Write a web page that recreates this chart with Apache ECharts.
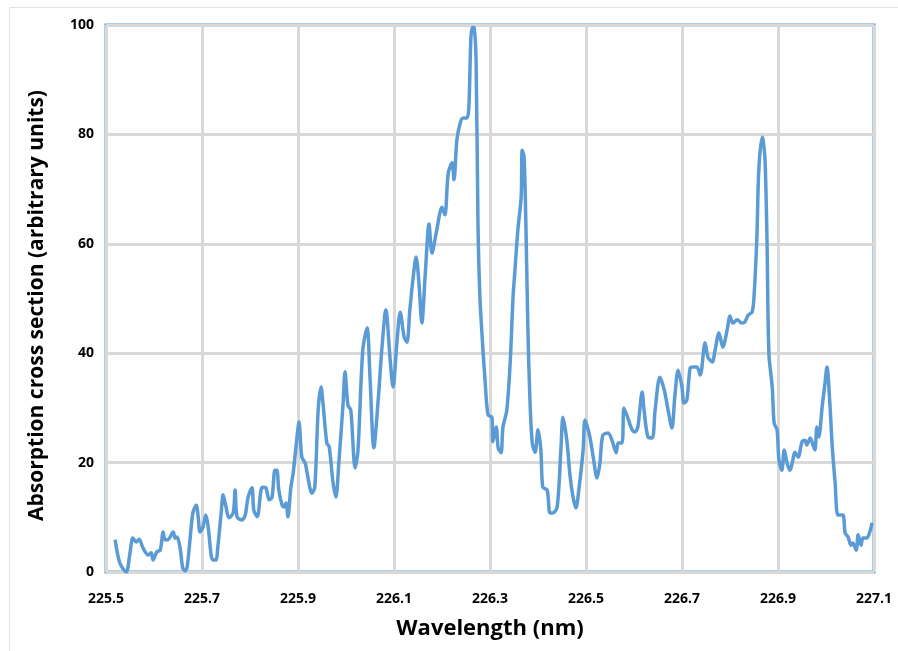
<!DOCTYPE html>
<html>
<head>
<meta charset="utf-8">
<script src="https://cdn.jsdelivr.net/npm/echarts@6/dist/echarts.min.js"></script>
<style>
  html, body { margin: 0; padding: 0; background: #ffffff; }
  #chart { width: 898px; height: 651px; }
</style>
</head>
<body>
<div id="chart"></div>
<script>
// Absorption spectrum: wavelength (nm) and relative cross section
const wavelength = [
  225.519, 225.529, 225.542, 225.550, 225.556, 225.563, 225.569, 225.577, 225.588, 225.594,
  225.598, 225.606, 225.613, 225.619, 225.623, 225.629, 225.640, 225.644, 225.648, 225.654,
  225.660, 225.665, 225.669, 225.675, 225.681, 225.688, 225.692, 225.696, 225.702, 225.708,
  225.713, 225.719, 225.723, 225.729, 225.733, 225.740, 225.744, 225.750, 225.756, 225.765,
  225.769, 225.773, 225.783, 225.790, 225.796, 225.804, 225.808, 225.815, 225.823, 225.827,
  225.833, 225.840, 225.846, 225.852, 225.856, 225.860, 225.867, 225.871, 225.875, 225.879,
  225.885, 225.890, 225.898, 225.902, 225.908, 225.915, 225.919, 225.929, 225.935, 225.942,
  225.948, 225.952, 225.960, 225.965, 225.973, 225.979, 225.985, 225.994, 225.998, 226.004,
  226.010, 226.019, 226.025, 226.035, 226.044, 226.050, 226.058, 226.067, 226.075, 226.083,
  226.092, 226.098, 226.106, 226.113, 226.121, 226.127, 226.133, 226.140, 226.146, 226.152,
  226.158, 226.165, 226.173, 226.179, 226.188, 226.200, 226.206, 226.213, 226.221, 226.225,
  226.231, 226.238, 226.244, 226.252, 226.256, 226.260, 226.263, 226.267, 226.271, 226.275,
  226.279, 226.285, 226.290, 226.296, 226.304, 226.306, 226.313, 226.317, 226.323, 226.327,
  226.335, 226.342, 226.348, 226.352, 226.358, 226.365, 226.367, 226.371, 226.375, 226.379,
  226.383, 226.388, 226.394, 226.400, 226.406, 226.410, 226.419, 226.425, 226.431, 226.440,
  226.448, 226.452, 226.460, 226.467, 226.473, 226.479, 226.485, 226.494, 226.498, 226.508,
  226.515, 226.523, 226.529, 226.535, 226.546, 226.554, 226.563, 226.567, 226.575, 226.579,
  226.585, 226.596, 226.602, 226.608, 226.617, 226.621, 226.629, 226.638, 226.644, 226.654,
  226.663, 226.671, 226.679, 226.685, 226.692, 226.700, 226.704, 226.710, 226.717, 226.723,
  226.731, 226.738, 226.748, 226.754, 226.763, 226.769, 226.777, 226.785, 226.794, 226.800,
  226.806, 226.815, 226.825, 226.831, 226.838, 226.846, 226.850, 226.856, 226.860, 226.867,
  226.869, 226.873, 226.877, 226.881, 226.888, 226.892, 226.898, 226.902, 226.908, 226.913,
  226.919, 226.925, 226.931, 226.935, 226.942, 226.950, 226.956, 226.960, 226.967, 226.973,
  226.977, 226.981, 226.985, 226.992, 226.998, 227.002, 227.008, 227.013, 227.019, 227.025,
  227.035, 227.040, 227.046, 227.052, 227.056, 227.063, 227.067, 227.073, 227.077, 227.085,
  227.096
];
const crossSection = [
  5.9, 1.6, 0.0, 3.5, 6.2, 5.5, 6.0, 4.4, 3.1, 3.5,
  2.2, 3.7, 4.0, 7.3, 5.9, 5.9, 7.3, 6.2, 6.4, 4.6,
  0.7, 0.2, 0.9, 5.9, 10.8, 12.2, 10.1, 7.3, 8.2, 10.4,
  8.2, 3.1, 2.2, 2.2, 4.6, 10.8, 14.1, 11.9, 9.9, 10.8,
  15.0, 10.1, 9.5, 10.4, 13.7, 15.4, 11.3, 10.1, 15.0, 15.5,
  15.4, 13.2, 13.7, 18.6, 18.6, 15.0, 12.2, 11.9, 12.6, 10.1,
  15.4, 18.1, 24.7, 27.4, 21.0, 19.9, 18.1, 14.4, 15.5, 29.6,
  33.8, 30.9, 23.6, 22.9, 16.3, 13.7, 19.9, 30.9, 36.6, 30.5,
  29.6, 19.0, 22.3, 40.6, 44.6, 35.6, 22.7, 31.4, 41.1, 47.9,
  38.8, 33.8, 41.9, 47.5, 43.0, 42.0, 47.9, 53.9, 57.6, 52.8,
  45.5, 54.3, 63.6, 58.3, 62.0, 66.7, 65.3, 72.9, 74.8, 71.7,
  79.0, 82.1, 83.0, 83.0, 85.0, 97.3, 99.6, 99.5, 93.6, 63.4,
  50.3, 41.1, 34.6, 28.7, 28.3, 23.8, 26.5, 22.7, 21.8, 26.5,
  29.6, 38.2, 50.3, 55.2, 62.5, 68.6, 77.1, 75.9, 62.5, 44.2,
  32.0, 23.6, 21.9, 26.0, 22.3, 15.5, 15.0, 10.8, 10.8, 11.9,
  22.9, 28.3, 24.1, 17.4, 13.7, 11.7, 15.0, 22.3, 27.8, 24.7,
  21.0, 17.2, 19.9, 25.0, 25.4, 24.1, 21.8, 23.6, 23.6, 30.0,
  28.7, 26.0, 25.6, 26.5, 32.9, 29.6, 24.7, 24.5, 29.6, 35.6,
  33.3, 29.6, 26.3, 32.0, 36.9, 33.8, 30.9, 31.4, 37.3, 37.5,
  37.5, 36.0, 41.9, 39.3, 38.4, 40.6, 43.7, 41.1, 44.2, 46.8,
  45.5, 46.1, 45.5, 45.7, 47.0, 47.5, 50.3, 61.2, 73.5, 79.5,
  79.0, 75.3, 61.2, 40.0, 33.8, 27.2, 26.0, 20.5, 18.6, 22.3,
  19.9, 18.6, 20.5, 21.9, 21.0, 23.8, 24.1, 23.2, 24.5, 23.2,
  22.3, 26.5, 24.7, 30.2, 34.6, 37.5, 30.9, 22.9, 16.3, 10.4,
  10.4, 7.1, 6.4, 4.9, 5.3, 4.0, 6.8, 4.9, 6.2, 6.2,
  9.0
];

const xTitle = 'Wavelength (nm)';
const yTitle = 'Absorption cross section (arbitrary units)';

const FONT = '"Open Sans", "Noto Sans", sans-serif';
const LINE_BLUE = '#5B9BD5';
const GRID_GREY = '#d9d9d9';

const chart = echarts.init(document.getElementById('chart'), null, { renderer: 'canvas' });

chart.setOption({
  backgroundColor: '#ffffff',
  animation: false,
  graphic: [{
    // chart-area frame; only its top and left edges fall inside the page
    type: 'rect',
    shape: { x: 9.5, y: 7.5, width: 1000, height: 1000 },
    style: { fill: 'none', stroke: '#e3e3e3', lineWidth: 1 },
    silent: true, z: -10
  }],
  grid: {
    left: 106, right: 24, top: 25, bottom: 79,
    show: true, borderColor: LINE_BLUE, borderWidth: 3, backgroundColor: 'transparent'
  },
  xAxis: {
    type: 'value',
    min: 225.5, max: 227.1, interval: 0.2,
    name: xTitle, nameLocation: 'middle', nameGap: 46,
    nameTextStyle: { fontFamily: FONT, fontWeight: 'bold', fontSize: 22, color: '#000' },
    axisLine: { show: false },
    axisTick: { show: false },
    axisLabel: {
      margin: 20,
      fontFamily: FONT, fontWeight: 'bold', fontSize: 14, color: '#000',
      formatter: v => v.toFixed(1)
    },
    splitLine: { show: true, lineStyle: { color: GRID_GREY, width: 3 } }
  },
  yAxis: {
    type: 'value',
    min: 0, max: 100, interval: 20,
    name: yTitle, nameLocation: 'middle', nameGap: 58,
    nameTextStyle: { fontFamily: FONT, fontWeight: 'bold', fontSize: 21, color: '#000', padding: [0, 0, 0, -14] },
    axisLine: { show: false },
    axisTick: { show: false },
    axisLabel: {
      margin: 12,
      fontFamily: FONT, fontWeight: 'bold', fontSize: 14, color: '#000'
    },
    splitLine: { show: true, lineStyle: { color: GRID_GREY, width: 3 } }
  },
  series: [{
    type: 'line',
    data: wavelength.map((w, i) => [w, crossSection[i]]),
    showSymbol: false,
    smooth: 0.3,
    clip: true,
    lineStyle: { color: LINE_BLUE, width: 3.5 }
  }]
});
</script>
</body>
</html>
